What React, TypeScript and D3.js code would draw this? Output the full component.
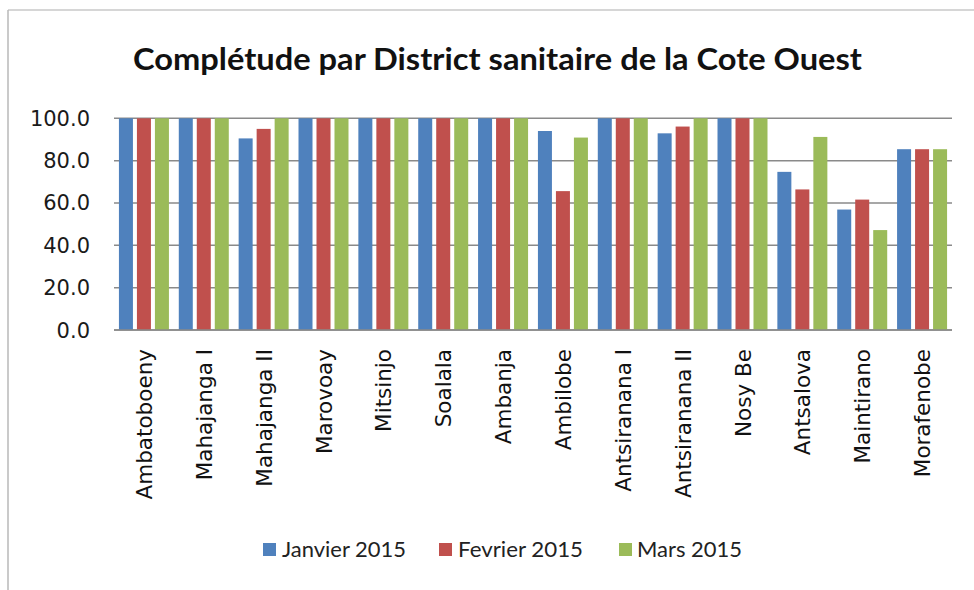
import React from "react";
import * as d3 from "d3";

const categories = [
  "Ambatoboeny", "Mahajanga I", "Mahajanga II", "Marovoay", "Mitsinjo", "Soalala",
  "Ambanja", "Ambilobe", "Antsiranana I", "Antsiranana II", "Nosy Be", "Antsalova",
  "Maintirano", "Morafenobe",
];
const seriesNames = ["Janvier 2015", "Fevrier 2015", "Mars 2015"];
const janvier = [100, 100, 90.5, 100, 100, 100, 100, 94.0, 100, 92.9, 100, 74.7, 56.9, 85.4];
const fevrier = [100, 100, 95.0, 100, 100, 100, 100, 65.6, 100, 96.1, 100, 66.4, 61.6, 85.4];
const mars = [100, 100, 100, 100, 100, 100, 100, 90.9, 100, 100, 100, 91.2, 47.2, 85.4];
const yTicks = [0, 20, 40, 60, 80, 100];
const titleText = "Complétude par District sanitaire de la Cote Ouest";

const colors = ["#4F81BD", "#C0504D", "#9BBB59"];

export default function App() {
  const W = 974, H = 590;
  const left = 114, right = 952, top = 118.3, bottom = 330;
  const x0 = d3.scaleBand<string>().domain(categories).range([left, right]).padding(0);
  const x1 = d3.scaleBand<string>().domain(seriesNames).range([0, x0.bandwidth()])
    .paddingInner(0.222).paddingOuter(0.274);
  const y = d3.scaleLinear().domain([0, 100]).range([bottom, top]);
  const values = [janvier, fevrier, mars];

  const legendSquares = [263, 439, 619];
  const legendTexts = [282, 458, 637];
  const legendWidths = [124, 125, 105];

  return (
    <svg width={W} height={H} style={{ position: "absolute", left: 0, top: 0, background: "#fff" }}>
      <rect x={0} y={0} width={W} height={H} fill="#fff" />
      <line x1={8} x2={W} y1={10} y2={10} stroke="#c8c8c8" strokeWidth={1.5} />
      <line x1={8} x2={8} y1={10} y2={H} stroke="#b8b8b8" strokeWidth={1.5} />
      <text x={133} y={70} fontFamily="Lato" fontWeight="bold" fontSize={30.5} fill="#111"
        textLength={729} lengthAdjust="spacingAndGlyphs">{titleText}</text>
      {yTicks.map((t) => (
        <g key={t}>
          <line x1={left} x2={right} y1={y(t)} y2={y(t)} stroke="#8a8a8a" strokeWidth={1.5} />
          <text x={90} y={y(t) + 7.5} textAnchor="end" fontFamily="DejaVu Sans" fontSize={21} fill="#1a1a1a">
            {t.toFixed(1)}
          </text>
        </g>
      ))}
      {categories.map((c, i) => (
        <g key={c}>
          {seriesNames.map((s, j) => {
            const v = values[j][i];
            return (
              <rect key={s} x={(x0(c) as number) + (x1(s) as number)} y={y(v)}
                width={x1.bandwidth()} height={y(0) - y(v)} fill={colors[j]} />
            );
          })}
          <text transform={`translate(${(x0(c) as number) + x0.bandwidth() / 2 + 8},349) rotate(-90)`}
            textAnchor="end" fontFamily="DejaVu Sans" fontSize={21.5} fill="#111">{c}</text>
        </g>
      ))}
      <line x1={left} x2={right} y1={y(0)} y2={y(0)} stroke="#8a8a8a" strokeWidth={1.5} />
      {seriesNames.map((s, j) => (
        <g key={s}>
          <rect x={legendSquares[j]} y={543} width={13} height={13} fill={colors[j]} />
          <text x={legendTexts[j]} y={557} fontFamily="Lato" fontSize={21} fill="#222"
            textLength={legendWidths[j]} lengthAdjust="spacingAndGlyphs">{s}</text>
        </g>
      ))}
    </svg>
  );
}
